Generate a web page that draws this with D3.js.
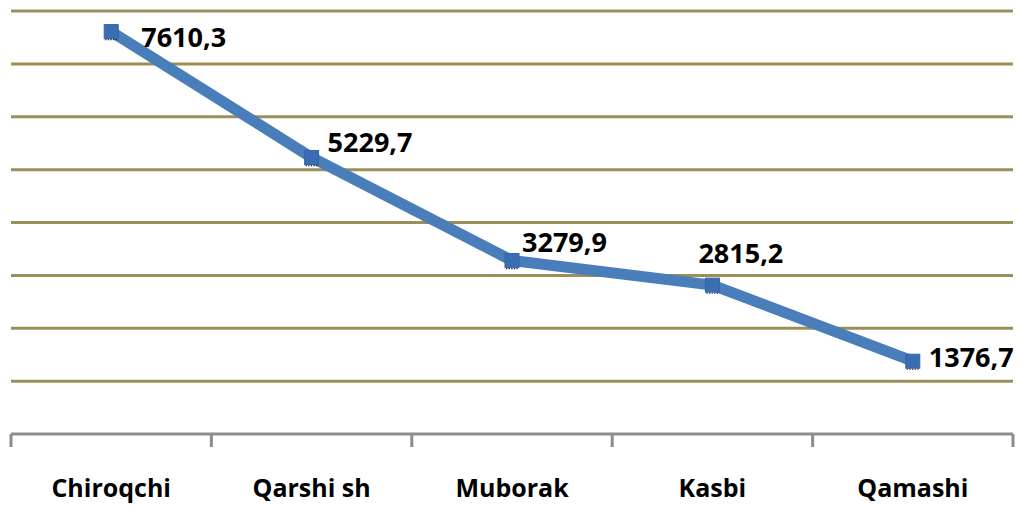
<!DOCTYPE html>
<html>
<head>
<meta charset="utf-8">
<script src="https://cdn.jsdelivr.net/npm/d3@7"></script>
<style>
  body { margin: 0; background: #fff; }
  text { font-family: "Open Sans", "Noto Sans", sans-serif; font-weight: bold; fill: #000; }
</style>
</head>
<body>
<div id="chart"></div>
<script>
var categories = ["Chiroqchi", "Qarshi sh", "Muborak", "Kasbi", "Qamashi"];
var values = [7610.3, 5229.7, 3279.9, 2815.2, 1376.7];
var yTicks = [1000, 2000, 3000, 4000, 5000, 6000, 7000, 8000];

// label nudges, px from the marker
var labelDx = [30, 16, 10, -14, 16],
    labelDy = [15, -5, -9, -22, 6];

var margin = {top: 11, right: 6, bottom: 71, left: 11},
    width = 1019 - margin.left - margin.right,
    height = 505 - margin.top - margin.bottom;

var svg = d3.select("#chart").append("svg")
    .attr("width", width + margin.left + margin.right)
    .attr("height", height + margin.top + margin.bottom)
    .append("g")
    .attr("transform", "translate(" + margin.left + "," + margin.top + ")");

var xScale = d3.scaleBand().domain(categories).range([0, width]),
    yScale = d3.scaleLinear().domain([0, 8000]).range([height, 0]);

// gridlines
svg.selectAll(".grid")
    .data(yTicks)
    .enter().append("line")
    .attr("class", "grid")
    .attr("x1", 0).attr("x2", width)
    .attr("y1", function(d) { return yScale(d); })
    .attr("y2", function(d) { return yScale(d); })
    .attr("stroke", "#9b8f57")
    .attr("stroke-width", 3);

// x axis
var xAxis = svg.append("g")
    .attr("transform", "translate(0," + height + ")")
    .call(d3.axisBottom(xScale).tickSize(0).tickPadding(45));
xAxis.select(".domain").remove();
xAxis.selectAll("text")
    .style("font-size", "25px")
    .style("font-family", "'Open Sans', sans-serif")
    .style("font-weight", "bold")
    .attr("fill", "#000");

var edges = categories.map(function(c) { return xScale(c); }).concat([width]);
svg.append("line")
    .attr("x1", 0).attr("x2", width)
    .attr("y1", height).attr("y2", height)
    .attr("stroke", "#8c8c8c").attr("stroke-width", 3);
svg.selectAll(".xtick")
    .data(edges)
    .enter().append("line")
    .attr("x1", function(d) { return d; })
    .attr("x2", function(d) { return d; })
    .attr("y1", height).attr("y2", height + 13)
    .attr("stroke", "#8c8c8c").attr("stroke-width", 3);

var cx = function(d, i) { return xScale(categories[i]) + xScale.bandwidth() / 2; },
    cy = function(d) { return yScale(d); };

var line = d3.line()
    .x(cx)
    .y(cy);

svg.append("path")
    .datum(values)
    .attr("d", line)
    .attr("fill", "none")
    .attr("stroke", "#4a7ebb")
    .attr("stroke-width", 11)
    .attr("stroke-linejoin", "round");

// little dotted shadows under markers
svg.selectAll(".shadow")
    .data(values)
    .enter().append("line")
    .attr("x1", function(d, i) { return cx(d, i) - 6; })
    .attr("x2", function(d, i) { return cx(d, i) + 6; })
    .attr("y1", function(d) { return cy(d) + 8; })
    .attr("y2", function(d) { return cy(d) + 8; })
    .attr("stroke", "#222")
    .attr("stroke-width", 1.3)
    .attr("stroke-dasharray", "1.3,1.3");

svg.selectAll(".marker")
    .data(values)
    .enter().append("rect")
    .attr("x", function(d, i) { return cx(d, i) - 7; })
    .attr("y", function(d) { return cy(d) - 7; })
    .attr("width", 14).attr("height", 14)
    .attr("fill", "#3b6db3")
    .attr("stroke", "#3565a8")
    .attr("stroke-width", 1);

svg.selectAll(".label")
    .data(values)
    .enter().append("text")
    .attr("x", function(d, i) { return cx(d, i) + labelDx[i]; })
    .attr("y", function(d, i) { return cy(d) + labelDy[i]; })
    .style("font-size", "27px")
    .text(function(d) { return d.toFixed(1).replace(".", ","); });
</script>
</body>
</html>
